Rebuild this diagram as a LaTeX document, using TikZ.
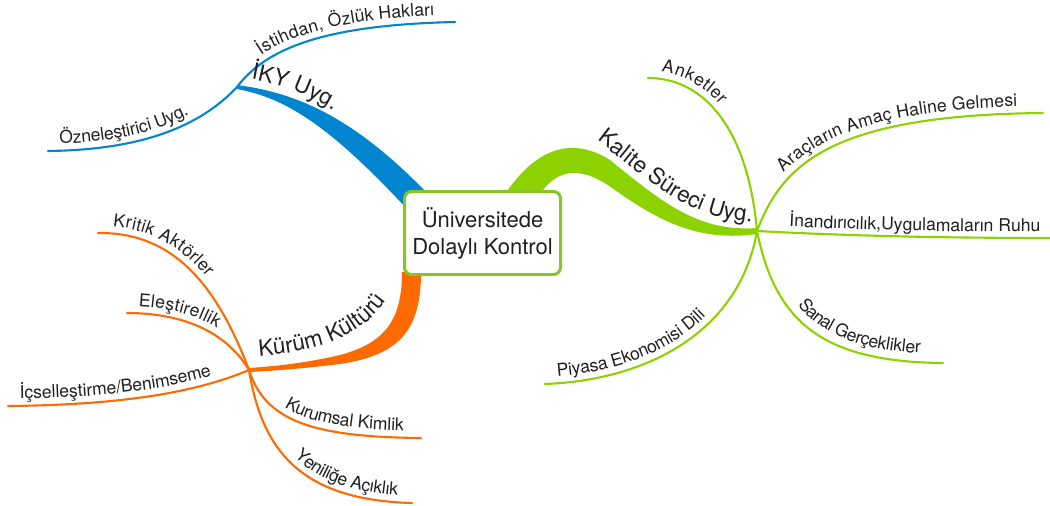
\documentclass[tikz,border=0pt]{standalone}
\usepackage{fontspec}
\setmainfont{TeX Gyre Heros}
\usetikzlibrary{decorations.text}

\definecolor{bluebr}{RGB}{0,133,206}
\definecolor{greenbr}{RGB}{140,210,0}
\definecolor{orangebr}{RGB}{255,106,0}
\definecolor{boxgreen}{RGB}{134,196,40}
\definecolor{ink}{RGB}{32,32,32}

\newcommand{\leaffont}{\fontsize{17.6}{19}\selectfont\color{ink}}
\newcommand{\branchfont}{\fontsize{22.5}{24}\selectfont\color{ink}}

\tikzset{
  leaf/.style={line width=2.1pt, line cap=round},
  % label written along a leaf line: indent, raise, text
  leaftext/.style n args={3}{postaction={decorate, decoration={text along path,
      text align={left indent=#1}, raise=#2, text={|\leaffont|#3}}}},
  % label written along its own baseline path
  branchtext/.style={decorate, decoration={text along path,
      text align={left indent=0pt}, text={|\branchfont|#1}}},
  rootbox/.style={draw=boxgreen, line width=3pt, rounded corners=7pt, fill=white,
      minimum width=156pt, minimum height=83pt, align=center, text=ink,
      font=\fontsize{22}{27}\selectfont},
}

\begin{document}
\begin{tikzpicture}[x=1pt, y=-1pt]
\useasboundingbox (0,0) rectangle (1050,506);

% junctions of the three branches
\coordinate (J) at (237,87);
\coordinate (K) at (249,370);
\coordinate (G) at (757,231);

% free ends of the leaf lines
\coordinate (bIst) at (455,22);
\coordinate (bOzn) at (48,151);
\coordinate (oKri) at (98,233);
\coordinate (oEle) at (127,313);
\coordinate (oIcs) at (8,406);
\coordinate (oKur) at (421,438);
\coordinate (oYen) at (412,503);
\coordinate (gAnk) at (648,78);
\coordinate (gAra) at (1043,113);
\coordinate (gIna) at (1050,238);
\coordinate (gSan) at (943,363);
\coordinate (gPiy) at (545,384);

% ---- blue branch: IKY Uyg.
\draw[leaf, bluebr, leaftext={38pt}{7pt}{İstihdan, Özlük Hakları}]
  (J) .. controls (265,50) and (320,25) .. (bIst);
\draw[leaf, bluebr, leaftext={12pt}{7pt}{Özneleştirici Uyg.}]
  (bOzn) .. controls (130,150) and (195,132) .. (J);
\fill[bluebr] (237,85) .. controls (290,92) and (348,112) .. (424,190)
  -- (408,210) .. controls (328,124) and (285,98) .. (237,89) -- cycle;
\path[branchtext={İKY Uyg.}] (251,79) .. controls (285,85) and (318,97) .. (352,124);

% ---- orange branch: Kürüm Kültürü
\draw[leaf, orangebr, leaftext={14pt}{7pt}{Kritik Aktörler}]
  (oKri) .. controls (170,232) and (215,280) .. (K);
\draw[leaf, orangebr, leaftext={11pt}{7pt}{Eleştirellik}]
  (oEle) .. controls (180,313) and (225,330) .. (K);
\draw[leaf, orangebr, leaftext={12pt}{7pt}{İçselleştirme/Benimseme}]
  (oIcs) .. controls (110,405) and (190,395) .. (K);
\draw[leaf, orangebr, leaftext={55pt}{7pt}{Kurumsal Kimlik}]
  (K) .. controls (265,420) and (310,437) .. (oKur);
\draw[leaf, orangebr, leaftext={102pt}{7pt}{Yeniliğe Açıklık}]
  (K) .. controls (262,450) and (300,500) .. (oYen);
\fill[orangebr] (421,272) .. controls (421,330) and (400,355) .. (340,364)
  .. controls (300,369) and (270,371) .. (249,372)
  -- (249,368) .. controls (280,366) and (310,362) .. (340,355)
  .. controls (385,343) and (402,320) .. (402,272) -- cycle;
\path[branchtext={Kürüm Kültürü}] (259,356) .. controls (322,351) and (374,336) .. (398,278);

% ---- green branch: Kalite Süreci Uyg.
\draw[leaf, greenbr, leaftext={12pt}{7pt}{Anketler}]
  (gAnk) .. controls (705,78) and (748,130) .. (G);
\draw[leaf, greenbr, leaftext={62pt}{7pt}{Araçların Amaç Haline Gelmesi}]
  (G) .. controls (782,165) and (830,115) .. (gAra);
\draw[leaf, greenbr, leaftext={32pt}{6pt}{İnandırıcılık,Uygulamaların Ruhu}]
  (G) .. controls (850,236) and (950,238) .. (gIna);
\draw[leaf, greenbr, leaftext={88pt}{9pt}{Sanal Gerçeklikler}]
  (G) .. controls (775,320) and (820,362) .. (gSan);
\draw[leaf, greenbr, leaftext={13pt}{7pt}{Piyasa Ekonomisi Dili}]
  (gPiy) .. controls (650,380) and (740,330) .. (G);
\fill[greenbr] (505,194) .. controls (535,150) and (570,135) .. (610,160)
  .. controls (665,205) and (700,232) .. (757,228)
  -- (757,234) .. controls (700,242) and (660,222) .. (615,190)
  .. controls (585,168) and (560,165) .. (540,194) -- cycle;
\path[branchtext={Kalite Süreci Uyg.}] (597,140) .. controls (650,180) and (690,225) .. (770,222);

% ---- central topic
\node[rootbox] (root) at (482.5,233) {Üniversitede\\Dolaylı Kontrol};
\end{tikzpicture}
\end{document}
